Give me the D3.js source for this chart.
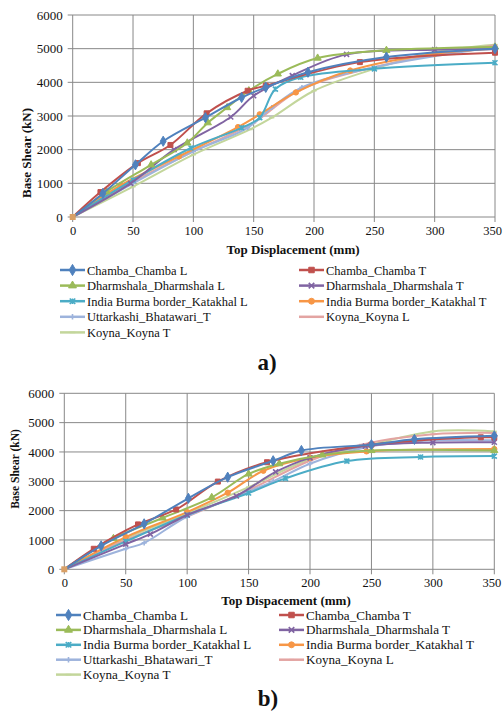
<!DOCTYPE html>
<html>
<head>
<meta charset="utf-8">
<script src="https://cdn.jsdelivr.net/npm/d3@7"></script>
<style>
  body { margin: 0; background: #fff; }
  svg, text { font-family: "Liberation Serif", "Times New Roman", serif; fill: #111; }
</style>
</head>
<body>
<div id="chart"></div>
<script>

var width = 503,
  height = 712;

// series names, shared by both panels
var seriesNames = [
  "Chamba_Chamba L", "Chamba_Chamba T",
  "Dharmshala_Dharmshala L", "Dharmshala_Dharmshala T",
  "India Burma border_Katakhal L", "India Burma border_Katakhal T",
  "Uttarkashi_Bhatawari_T", "Koyna_Koyna L",
  "Koyna_Koyna T"
];
var xTicks = [0, 50, 100, 150, 200, 250, 300, 350];
var yTicks = [0, 1000, 2000, 3000, 4000, 5000, 6000];

// panel a) - [displacement mm, base shear kN]
var aChambaL = [[0,0],[25,700],[52,1550],[75,2250],[110,2950],[140,3550],[160,3850],[195,4300],[260,4750],[350,5000]];
var aChambaT = [[0,0],[23,740],[54,1600],[81,2140],[111,3080],[145,3750],[160,3900],[238,4600],[350,4880]];
var aDharmL = [[0,0],[28,750],[65,1550],[95,2200],[112,2800],[128,3250],[146,3750],[170,4250],[203,4720],[260,4950],[350,5050]];
var aDharmT = [[0,0],[48,1000],[84,2000],[131,2970],[150,3600],[182,4200],[227,4830],[300,4970],[350,4980]];
var aBurmaL = [[0,0],[50,1100],[98,2050],[140,2650],[155,2950],[168,3800],[189,4150],[250,4400],[350,4580]];
var aBurmaT = [[0,0],[40,950],[88,1800],[137,2670],[155,3050],[185,3700],[230,4350],[300,4850],[350,5000]];
var aUttar = [[0,0],[50,1000],[100,1950],[145,2650],[165,3250],[190,3850],[250,4450],[350,5050]];
var aKoynaL = [[0,0],[50,1050],[100,1950],[150,2800],[187,3750],[250,4450],[350,5100]];
var aKoynaT = [[0,0],[50,900],[100,1850],[147,2600],[165,2950],[200,3750],[250,4400],[300,4900],[350,5120]];

// panel b)
var bChambaL = [[0,0],[30,800],[65,1550],[101,2420],[133,3140],[170,3700],[193,4050],[250,4250],[285,4430],[350,4550]];
var bChambaT = [[0,0],[24,700],[60,1530],[91,2040],[125,2990],[165,3650],[250,4250],[339,4500],[350,4500]];
var bDharmL = [[0,0],[40,1050],[80,1750],[120,2450],[150,3250],[175,3600],[210,3900],[250,4050],[350,4050]];
var bDharmT = [[0,0],[50,860],[70,1200],[100,1850],[140,2500],[172,3320],[200,3800],[245,4200],[300,4320],[350,4330]];
var bBurmaL = [[0,0],[50,950],[100,1850],[150,2600],[180,3100],[230,3690],[290,3830],[350,3860]];
var bBurmaT = [[0,0],[50,1100],[100,1950],[133,2610],[162,3360],[200,3800],[246,4020],[350,4100]];
var bUttar = [[0,0],[50,700],[65,900],[100,1800],[150,2650],[170,3000],[200,3600],[245,4150],[290,4380],[350,4400]];
var bKoynaL = [[0,0],[50,1000],[100,1800],[150,2700],[200,3700],[242,4250],[300,4600],[350,4650]];
var bKoynaT = [[0,0],[50,1050],[100,1900],[150,2800],[200,3750],[250,4250],[300,4700],[350,4700]];

var colors = ["#4f81bd", "#c0504d", "#9bbb59", "#8064a2", "#4bacc6", "#f79646", "#9db3dc", "#e3a4a2", "#c3d69b"];
var markers = ["diamond", "square", "triangle", "x", "star", "circle", "plus", "dash", "dash"];

var svg = d3.select("#chart")
  .append("svg")
  .attr("width", width)
  .attr("height", height)
  .attr("font-family", "Liberation Serif");

function markerPath(type, size) {
  var s = size;
  if (type == "diamond") return d3.symbol(d3.symbolDiamond, s * s * 1.2)();
  if (type == "square") return d3.symbol(d3.symbolSquare, s * s)();
  if (type == "triangle") return d3.symbol(d3.symbolTriangle, s * s * 0.9)();
  if (type == "circle") return d3.symbol(d3.symbolCircle, s * s * 0.9)();
  var h = s / 2;
  if (type == "x") return "M" + (-h) + "," + (-h) + "L" + h + "," + h + "M" + (-h) + "," + h + "L" + h + "," + (-h);
  if (type == "star") return "M" + (-h) + "," + (-h) + "L" + h + "," + h + "M" + (-h) + "," + h + "L" + h + "," + (-h) + "M0," + (-h) + "L0," + h;
  if (type == "plus") return "M" + (-h) + ",0L" + h + ",0M0," + (-h) + "L0," + h;
  return "M" + (-h) + ",0L" + h + ",0";
}

function isStroke(m) {
  return m == "x" || m == "star" || m == "plus" || m == "dash";
}

function drawPanel(cfg) {
  var x = d3.scaleLinear().domain([0, 350]).range([cfg.left, cfg.right]);
  var y = d3.scaleLinear().domain([0, 6000]).range([cfg.bottom, cfg.top]);
  var g = svg.append("g");

  // grid
  g.append("g").selectAll("line")
    .data(yTicks)
    .enter().append("line")
    .attr("x1", cfg.left - 5).attr("x2", cfg.right)
    .attr("y1", function (d) { return y(d); })
    .attr("y2", function (d) { return y(d); })
    .attr("stroke", "#888").attr("stroke-width", 1);
  g.append("g").selectAll("line")
    .data(xTicks)
    .enter().append("line")
    .attr("x1", function (d) { return x(d); })
    .attr("x2", function (d) { return x(d); })
    .attr("y1", cfg.top).attr("y2", cfg.bottom + 5)
    .attr("stroke", "#888").attr("stroke-width", 1);

  // tick labels through d3 axes
  var yAxis = d3.axisLeft(y).tickValues(yTicks).tickFormat(d3.format("d")).tickSize(0).tickPadding(10);
  var xAxis = d3.axisBottom(x).tickValues(xTicks).tickFormat(d3.format("d")).tickSize(0).tickPadding(9);
  var ya = g.append("g").attr("transform", "translate(" + cfg.left + ",0)").call(yAxis)
    .attr("font-family", "Liberation Serif").attr("font-size", 13);
  ya.select(".domain").remove();
  ya.selectAll("text").attr("fill", "#111");
  var xa = g.append("g").attr("transform", "translate(0," + cfg.bottom + ")").call(xAxis)
    .attr("font-family", "Liberation Serif").attr("font-size", 12.5);
  xa.select(".domain").remove();
  xa.selectAll("text").attr("fill", "#111")
    .attr("dx", function (d) { return d == 350 ? -3 : 0; });

  g.append("text")
    .attr("x", cfg.xTitleX).attr("y", cfg.xTitleY)
    .attr("text-anchor", "middle")
    .style("font-weight", "bold").style("font-size", "13px")
    .text(cfg.xTitle);
  g.append("text")
    .attr("transform", "translate(" + cfg.yTitleX + "," + cfg.yTitleY + ") rotate(-90)")
    .attr("text-anchor", "middle")
    .style("font-weight", "bold").style("font-size", cfg.yTitleSize + "px")
    .text("Base Shear (kN)");

  var line = d3.line()
    .x(function (d) { return x(d[0]); })
    .y(function (d) { return y(d[1]); })
    .curve(d3.curveCatmullRom.alpha(0.5));

  // draw light series first so the main ones sit on top
  var order = [8, 7, 6, 5, 4, 3, 2, 1, 0];
  order.forEach(function (i) {
    var data = cfg.series[i];
    g.append("path")
      .attr("d", line(data))
      .attr("fill", "none")
      .attr("stroke", colors[i])
      .attr("stroke-width", 2);
    g.selectAll(null)
      .data(data.slice(1))
      .enter().append("path")
      .attr("transform", function (d) { return "translate(" + x(d[0]) + "," + y(d[1]) + ")"; })
      .attr("d", markerPath(markers[i], 5))
      .attr("fill", colors[i])
      .attr("stroke", colors[i])
      .attr("stroke-width", isStroke(markers[i]) ? 1.6 : 1);
  });
  // origin marker
  g.append("path")
    .attr("transform", "translate(" + x(0) + "," + y(0) + ")")
    .attr("d", markerPath("square", 6))
    .attr("fill", "#d9a066");

  // legend
  var leg = g.append("g");
  seriesNames.forEach(function (name, i) {
    var col = i % 2, row = Math.floor(i / 2);
    var lx = cfg.legX[col], ly = cfg.legY + row * cfg.legStep;
    leg.append("line")
      .attr("x1", lx).attr("x2", lx + 25)
      .attr("y1", ly).attr("y2", ly)
      .attr("stroke", colors[i]).attr("stroke-width", 2.5);
    leg.append("path")
      .attr("transform", "translate(" + (lx + 12.5) + "," + ly + ")")
      .attr("d", markerPath(markers[i], 5.5))
      .attr("fill", colors[i])
      .attr("stroke", colors[i])
      .attr("stroke-width", isStroke(markers[i]) ? 1.6 : 1);
    leg.append("text")
      .attr("x", lx + 27).attr("y", ly + 4.5)
      .style("font-size", cfg.legFont + "px")
      .text(name);
  });

  svg.append("text")
    .attr("x", cfg.capX).attr("y", cfg.capY)
    .attr("text-anchor", "middle")
    .style("font-weight", "bold").style("font-size", "23px")
    .text(cfg.caption);
}

drawPanel({
  left: 72.7, right: 495, top: 15, bottom: 217,
  series: [aChambaL, aChambaT, aDharmL, aDharmT, aBurmaL, aBurmaT, aUttar, aKoynaL, aKoynaT],
  xTitle: "Top Displacement (mm)", xTitleX: 293, xTitleY: 254,
  yTitleX: 31, yTitleY: 153, yTitleSize: 13,
  legX: [60, 299], legY: 270, legStep: 15.6, legFont: 12.5,
  caption: "a)", capX: 267, capY: 370
});

drawPanel({
  left: 64.3, right: 494.3, top: 393.3, bottom: 569.3,
  series: [bChambaL, bChambaT, bDharmL, bDharmT, bBurmaL, bBurmaT, bUttar, bKoynaL, bKoynaT],
  xTitle: "Top Dispacement (mm)", xTitleX: 286, xTitleY: 605,
  yTitleX: 19, yTitleY: 469, yTitleSize: 11.5,
  legX: [56, 279], legY: 615, legStep: 14.9, legFont: 13.1,
  caption: "b)", capX: 268, capY: 706
});

</script>
</body>
</html>
